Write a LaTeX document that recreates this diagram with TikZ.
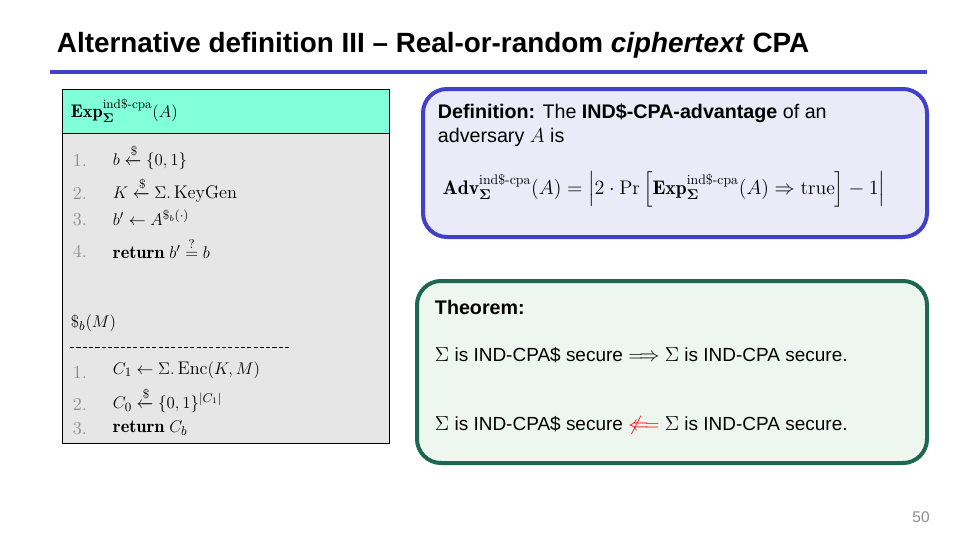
\documentclass[tikz,border=0pt]{standalone}
\usepackage{amsmath,amssymb}
\usepackage{fontspec}
\setsansfont{Liberation Sans}
\usetikzlibrary{positioning}
\definecolor{defblue}{RGB}{64,64,200}
\definecolor{deffill}{RGB}{234,234,248}
\definecolor{thmgreen}{RGB}{30,102,80}
\definecolor{thmfill}{RGB}{238,246,240}
\definecolor{expfill}{RGB}{128,255,216}
\definecolor{algfill}{RGB}{230,230,230}
\definecolor{numgray}{RGB}{140,140,140}
\tikzset{
  lnum/.style={anchor=west, text=numgray, font=\fontsize{13}{15}\selectfont},
  lstep/.style={anchor=west, font=\fontsize{13}{15}\selectfont},
  rtext/.style={anchor=west, font=\sffamily\fontsize{14}{17}\selectfont, align=left}
}
\newcommand{\rnd}{\xleftarrow{\$}}
\begin{document}
\begin{tikzpicture}[x=0.025cm,y=-0.025cm]
  \useasboundingbox (0,0) rectangle (960,540);
  \node[anchor=west, font=\sffamily\fontsize{19.8}{23}\selectfont\bfseries] (title) at (52,45)
    {Alternative definition III -- Real-or-random \textit{ciphertext} CPA};
  \draw[defblue, line width=1.2mm] (50,72) -- (927,72);

  % experiment box
  \draw[fill=algfill] (62,89) rectangle (389,443);
  \draw[fill=expfill] (62,89) rectangle (389,133);
  \node[lstep] (exp) at (66,111) {$\mathbf{Exp}_{\boldsymbol{\Sigma}}^{\text{ind\$-cpa}}(A)$};
  \node[lnum] (n1) at (68,160) {1.};
  \node[lstep] (s1) at (108,157) {$b \rnd \{0,1\}$};
  \node[lnum] (n2) at (68,193) {2.};
  \node[lstep] (s2) at (108,190) {$K \rnd \Sigma.\,\mathrm{KeyGen}$};
  \node[lnum] (n3) at (68,220) {3.};
  \node[lstep] (s3) at (108,218) {$b' \leftarrow A^{\$_b(\cdot)}$};
  \node[lnum] (n4) at (68,251) {4.};
  \node[lstep] (s4) at (108,248) {$\mathbf{return}\; b' \overset{?}{=} b$};
  \node[lstep] (ora) at (66,323) {$\$_b(M)$};
  \draw[dashed, dash pattern=on 3pt off 1.5pt] (70,347) -- (290,347);
  \node[lnum] (m1) at (68,372) {1.};
  \node[lstep] (t1) at (108,370) {$C_1 \leftarrow \Sigma.\,\mathrm{Enc}(K,M)$};
  \node[lnum] (m2) at (68,404) {2.};
  \node[lstep] (t2) at (108,400) {$C_0 \rnd \{0,1\}^{|C_1|}$};
  \node[lnum] (m3) at (68,429) {3.};
  \node[lstep] (t3) at (108,428) {$\mathbf{return}\; C_b$};

  % definition box
  \draw[defblue, line width=1mm, fill=deffill, rounded corners=6mm] (423,89) rectangle (927,237);
  \node[rtext] (def) at (433,125) {\textbf{Definition:} The \textbf{IND\$-CPA-advantage} of an\\adversary $A$ is};
  \node[rtext, font=\fontsize{14}{17}\selectfont] (adv) at (438,189)
    {$\mathbf{Adv}_{\boldsymbol{\Sigma}}^{\text{ind\$-cpa}}(A) = \left|2\cdot\Pr\left[\mathbf{Exp}_{\boldsymbol{\Sigma}}^{\text{ind\$-cpa}}(A) \Rightarrow \text{true}\right] - 1\right|$};

  % theorem box
  \draw[thmgreen, line width=1mm, fill=thmfill, rounded corners=6mm] (417,281) rectangle (927,463);
  \node[rtext] (thm) at (430,307) {\textbf{Theorem:}};
  \node[rtext, font=\sffamily\fontsize{13.5}{16}\selectfont] (imp) at (430,355) {$\Sigma$ is IND-CPA\$ secure $\Longrightarrow$ $\Sigma$ is IND-CPA secure.};
  \node[rtext, font=\sffamily\fontsize{13.5}{16}\selectfont] (nimp) at (430,425) {$\Sigma$ is IND-CPA\$ secure {\color{red}$\not\Longleftarrow$} $\Sigma$ is IND-CPA secure.};

  \node[text=numgray, font=\sffamily\fontsize{11}{13}\selectfont] (page) at (921,517) {50};
\end{tikzpicture}
\end{document}
